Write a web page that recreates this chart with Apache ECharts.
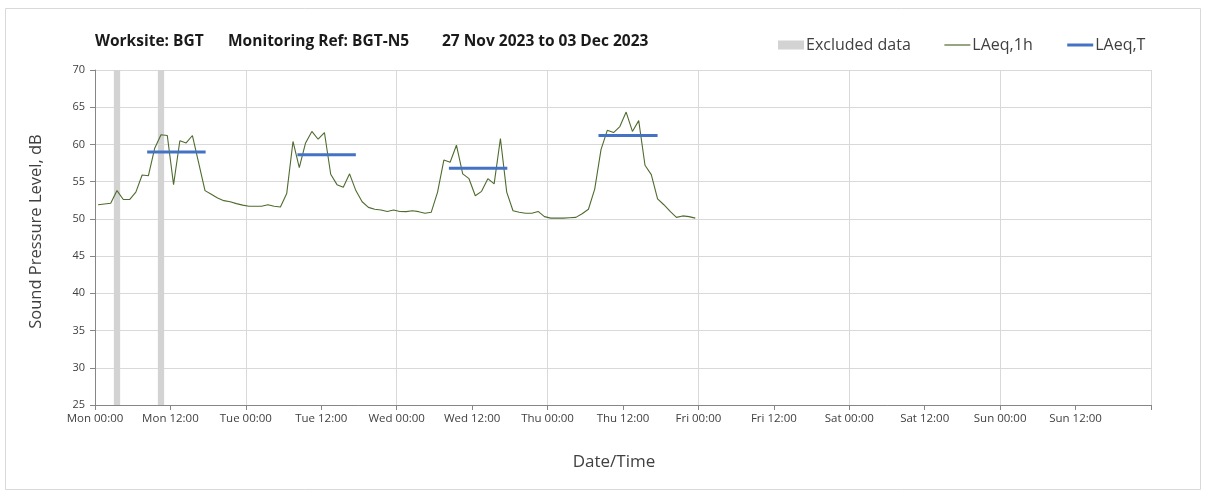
<!DOCTYPE html>
<html>
<head>
<meta charset="utf-8">
<script src="https://cdn.jsdelivr.net/npm/echarts@6/dist/echarts.min.js"></script>
<style>
html,body{margin:0;padding:0;background:#fff;}
#chart{width:1208px;height:493px;}
</style>
</head>
<body>
<div id="chart"></div>
<script>
// Tick labels every 12 h (x axis in hours from Mon 00:00)
const xTickLabels = ['Mon 00:00','Mon 12:00','Tue 00:00','Tue 12:00','Wed 00:00','Wed 12:00','Thu 00:00','Thu 12:00','Fri 00:00','Fri 12:00','Sat 00:00','Sat 12:00','Sun 00:00','Sun 12:00',''];
// Hourly LAeq,1h values (dB), one per hour
const laeq1hMon = [51.9,52.0,52.1,53.8,52.6,52.6,53.6,55.9,55.8,59.5,61.3,61.2,54.6,60.5,60.2,61.2,57.5,53.8,53.3,52.8,52.45,52.3,52.05,51.85];
const laeq1hTue = [51.7,51.7,51.7,51.9,51.7,51.6,53.4,60.4,56.9,60.2,61.75,60.7,61.6,56.0,54.6,54.25,56.05,53.8,52.3,51.55,51.3,51.2,51.0,51.2];
const laeq1hWed = [51.0,50.97,51.1,50.97,50.75,50.9,53.6,57.9,57.6,59.9,56.05,55.4,53.1,53.7,55.4,54.7,60.8,53.6,51.1,50.9,50.75,50.75,51.0,50.3];
const laeq1hThu = [50.1,50.1,50.1,50.15,50.2,50.7,51.3,54.0,59.3,61.9,61.6,62.4,64.35,61.75,63.2,57.2,55.95,52.7,51.9,51.0,50.2,50.4,50.3,50.1];
// LAeq,T daytime periods
const laeqTValues = [59.0, 58.6, 56.8, 61.2];
const laeqTStart = [8.3, 32.2, 56.3, 80.1];
const laeqTEnd = [17.6, 41.5, 65.6, 89.5];
// Excluded hours
const excludedStart = [3, 10];
const excludedEnd = [4, 11];

const hourly = [].concat(laeq1hMon, laeq1hTue, laeq1hWed, laeq1hThu);
const lineData = hourly.map((v, i) => [i + 0.5, v]);

const FONT = 'Open Sans';
const chart = echarts.init(document.getElementById('chart'));

const series = [
  {
    name: 'Excluded data', type: 'line', data: [], xAxisIndex: 0,
    itemStyle: { color: '#d3d3d3' },
    markArea: {
      silent: true,
      itemStyle: { color: '#d3d3d3' },
      data: excludedStart.map((s, i) => [{ xAxis: s, yAxis: 25 }, { xAxis: excludedEnd[i], yAxis: 70 }])
    }
  },
  {
    name: 'LAeq,1h', type: 'line', data: lineData, xAxisIndex: 0,
    showSymbol: false, symbol: 'none', z: 3,
    lineStyle: { color: '#4f6b2f', width: 1.1 },
    itemStyle: { color: '#4f6b2f' }
  }
];
laeqTValues.forEach((v, i) => {
  series.push({
    name: 'LAeq,T', type: 'line', xAxisIndex: 0, symbol: 'none', showSymbol: false, z: 4,
    data: [[laeqTStart[i], v], [laeqTEnd[i], v]],
    lineStyle: { color: '#4472c4', width: 3 },
    itemStyle: { color: '#4472c4' }
  });
});

const titleFont = 'bold 15.5px "Open Sans"';
chart.setOption({
  animation: false,
  backgroundColor: '#fff',
  textStyle: { fontFamily: FONT },
  graphic: [
    { type: 'rect', shape: { x: 5.5, y: 8.5, width: 1195, height: 481 }, style: { fill: 'none', stroke: '#d9d9d9', lineWidth: 1 }, silent: true },
    { type: 'text', left: 95, top: 34, style: { text: 'Worksite: BGT', font: titleFont, fill: '#1a1a1a' } },
    { type: 'text', left: 228, top: 34, style: { text: 'Monitoring Ref: BGT-N5', font: titleFont, fill: '#1a1a1a' } },
    { type: 'text', left: 442, top: 34, style: { text: '27 Nov 2023 to 03 Dec 2023', font: titleFont, fill: '#1a1a1a' } }
  ],
  legend: {
    left: 773, top: 32,
    itemWidth: 26, itemHeight: 9, itemGap: 33,
    textStyle: { fontFamily: FONT, fontSize: 16, color: '#404040', padding: [0, 0, 0, -3] },
    data: [
      { name: 'Excluded data', icon: 'rect', itemStyle: { color: '#d3d3d3' } },
      { name: 'LAeq,1h', itemStyle: { opacity: 0 }, lineStyle: { color: '#4f6b2f', width: 1.2 } },
      { name: 'LAeq,T', itemStyle: { opacity: 0 }, lineStyle: { color: '#4472c4', width: 3 } }
    ]
  },
  grid: { left: 95, right: 57, top: 70, bottom: 88 },
  xAxis: [
    {
      type: 'value', min: 0, max: 168, interval: 12,
      name: 'Date/Time', nameLocation: 'middle', nameGap: 49,
      nameTextStyle: { fontFamily: FONT, fontSize: 17, color: '#404040', padding: [0, 18, 0, 0] },
      axisLine: { lineStyle: { color: '#868686' } },
      axisTick: { show: true, length: 5, lineStyle: { color: '#868686' } },
      axisLabel: {
        fontFamily: FONT, fontSize: 11.5, color: '#404040', margin: 8,
        formatter: (v) => xTickLabels[Math.round(v / 12)] || ''
      },
      splitLine: { show: false }
    },
    {
      type: 'value', min: 0, max: 168, interval: 24, position: 'bottom',
      axisLine: { show: false }, axisTick: { show: false }, axisLabel: { show: false },
      splitLine: { show: true, lineStyle: { color: '#d9d9d9', width: 1 } }
    }
  ],
  yAxis: {
    type: 'value', min: 25, max: 70, interval: 5,
    name: 'Sound Pressure Level, dB', nameLocation: 'middle', nameGap: 50,
    nameTextStyle: { fontFamily: FONT, fontSize: 16.5, color: '#404040', padding: [0, 0, 0, 12] },
    axisLine: { show: true, lineStyle: { color: '#868686' } },
    axisTick: { show: true, length: 5, lineStyle: { color: '#868686' } },
    axisLabel: { fontFamily: FONT, fontSize: 11, color: '#404040', margin: 10 },
    splitLine: { show: true, lineStyle: { color: '#d9d9d9', width: 1 } }
  },
  series: series
});
</script>
</body>
</html>
